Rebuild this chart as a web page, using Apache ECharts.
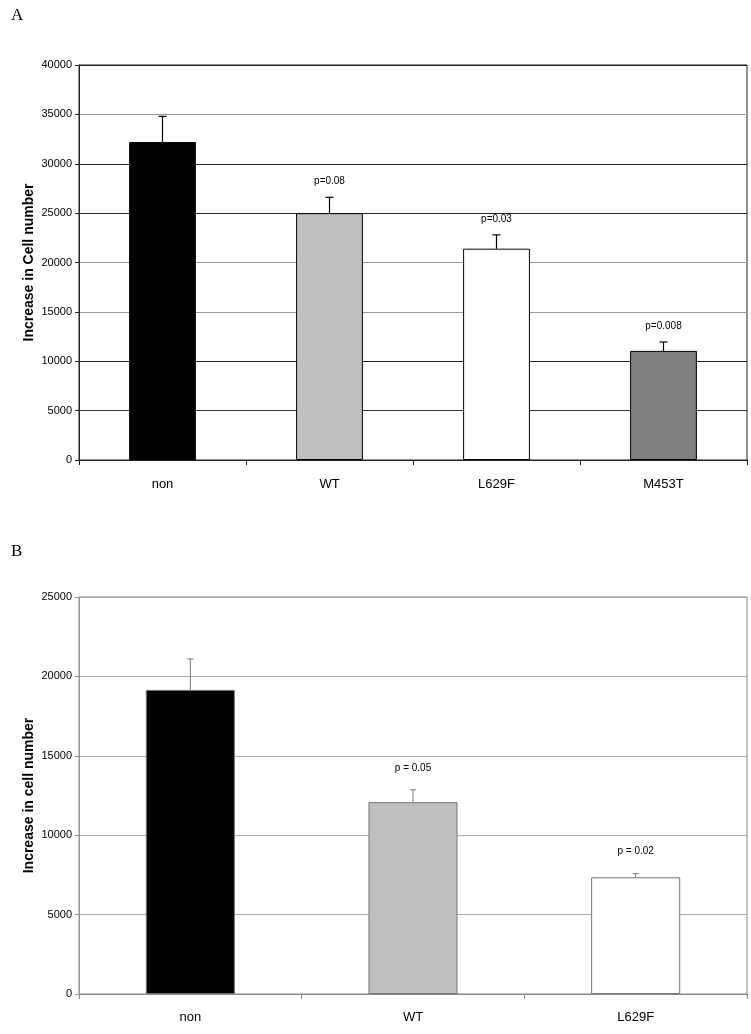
<!DOCTYPE html>
<html><head><meta charset="utf-8">
<script src="https://cdn.jsdelivr.net/npm/echarts@6/dist/echarts.min.js"></script>
<style>html,body{margin:0;padding:0;background:#fff}#c{width:751px;height:1034px}</style>
</head><body><div id="c"></div>
<script>
// Panel A
const catsA = ['non', 'WT', 'L629F', 'M453T'];
const valsA = [32200, 25000, 21400, 11050];
const errsA = [2600, 1600, 1400, 900];
const pA = ['', 'p=0.08', 'p=0.03', 'p=0.008'];
const colorsA = ['#000000', '#c0c0c0', '#ffffff', '#808080'];
// Panel B
const catsB = ['non', 'WT', 'L629F'];
const valsB = [19150, 12080, 7350];
const errsB = [1950, 780, 230];
const pB = ['', 'p = 0.05', 'p = 0.02'];
const colorsB = ['#000000', '#c0c0c0', '#ffffff'];

const FONT = 'Liberation Sans, Arial, sans-serif';

function errSeries(idx, vals, errs, labels, color, lw, cap, off) {
  return {
    type: 'custom', xAxisIndex: idx, yAxisIndex: idx, z: 5,
    data: vals.map((v, i) => [i, v, errs[i]]),
    encode: { x: 0, y: 1 },
    renderItem: function (params, api) {
      const i = api.value(0), v = api.value(1), e = api.value(2);
      const lab = labels[i];
      const p0 = api.coord([i, v]);
      const p1 = api.coord([i, v + e]);
      const children = [
        { type: 'line', shape: { x1: p0[0], y1: p0[1], x2: p1[0], y2: p1[1] }, style: { stroke: color, lineWidth: lw } },
        { type: 'line', shape: { x1: p1[0] - cap, y1: p1[1], x2: p1[0] + cap, y2: p1[1] }, style: { stroke: color, lineWidth: lw } }
      ];
      if (lab) {
        children.push({ type: 'text', x: p1[0], y: p1[1] - off, style: { text: lab, fill: '#000', font: '10px ' + FONT, align: 'center', verticalAlign: 'middle' } });
      }
      return { type: 'group', children: children };
    }
  };
}

const plain = v => String(v);

const chart = echarts.init(document.getElementById('c'));
chart.setOption({
  animation: false,
  backgroundColor: '#fff',
  title: [
    { text: 'A', left: 6, top: 2, textStyle: { fontFamily: 'Liberation Serif, Times New Roman, serif', fontWeight: 'normal', fontSize: 17, color: '#000' } },
    { text: 'B', left: 6, top: 538, textStyle: { fontFamily: 'Liberation Serif, Times New Roman, serif', fontWeight: 'normal', fontSize: 17, color: '#000' } }
  ],
  grid: [
    { left: 79, right: 4, top: 65, height: 395, show: true, borderColor: '#222', borderWidth: 1 },
    { left: 79, right: 4, top: 597, height: 397, show: true, borderColor: '#888', borderWidth: 1 }
  ],
  xAxis: [
    { type: 'category', gridIndex: 0, data: catsA,
      axisLine: { lineStyle: { color: '#222', width: 1 } },
      axisTick: { show: true, length: 5, lineStyle: { color: '#222' } },
      axisLabel: { color: '#000', fontSize: 13, fontFamily: FONT, margin: 18 } },
    { type: 'category', gridIndex: 1, data: catsB,
      axisLine: { lineStyle: { color: '#888', width: 1 } },
      axisTick: { show: true, length: 5, lineStyle: { color: '#888' } },
      axisLabel: { color: '#000', fontSize: 13, fontFamily: FONT, margin: 17 } }
  ],
  yAxis: [
    { type: 'value', gridIndex: 0, min: 0, max: 40000, interval: 5000,
      name: 'Increase in Cell number', nameLocation: 'middle', nameGap: 43, nameMoveOverlap: false,
      nameTextStyle: { fontFamily: FONT, fontWeight: 'bold', fontSize: 14, color: '#000' },
      axisLine: { show: true, lineStyle: { color: '#222' } },
      axisTick: { show: true, length: 4, lineStyle: { color: '#222' } },
      axisLabel: { color: '#000', fontSize: 11, fontFamily: FONT, margin: 7, formatter: plain },
      splitLine: { show: true, lineStyle: { width: 1, color: ['#222', '#333', '#222', '#999', '#999', '#222', '#222', '#999', '#222'] } } },
    { type: 'value', gridIndex: 1, min: 0, max: 25000, interval: 5000,
      name: 'Increase in cell number', nameLocation: 'middle', nameGap: 43, nameMoveOverlap: false,
      nameTextStyle: { fontFamily: FONT, fontWeight: 'bold', fontSize: 14, color: '#000' },
      axisLine: { show: true, lineStyle: { color: '#999' } },
      axisTick: { show: true, length: 4, lineStyle: { color: '#999' } },
      axisLabel: { color: '#000', fontSize: 11, fontFamily: FONT, margin: 7, formatter: plain },
      splitLine: { show: true, lineStyle: { width: 1, color: '#aaa' } } }
  ],
  series: [
    { type: 'bar', xAxisIndex: 0, yAxisIndex: 0, barWidth: '40%', z: 3,
      data: valsA.map((v, i) => ({ value: v, itemStyle: { color: colorsA[i], borderColor: '#000', borderWidth: 1 } })) },
    errSeries(0, valsA, errsA, pA, '#000', 1.2, 4, 16),
    { type: 'bar', xAxisIndex: 1, yAxisIndex: 1, barWidth: '40%', z: 3,
      data: valsB.map((v, i) => ({ value: v, itemStyle: { color: colorsB[i], borderColor: '#777', borderWidth: 1 } })) },
    errSeries(1, valsB, errsB, pB, '#777', 1, 3, 22)
  ]
});
</script></body></html>
